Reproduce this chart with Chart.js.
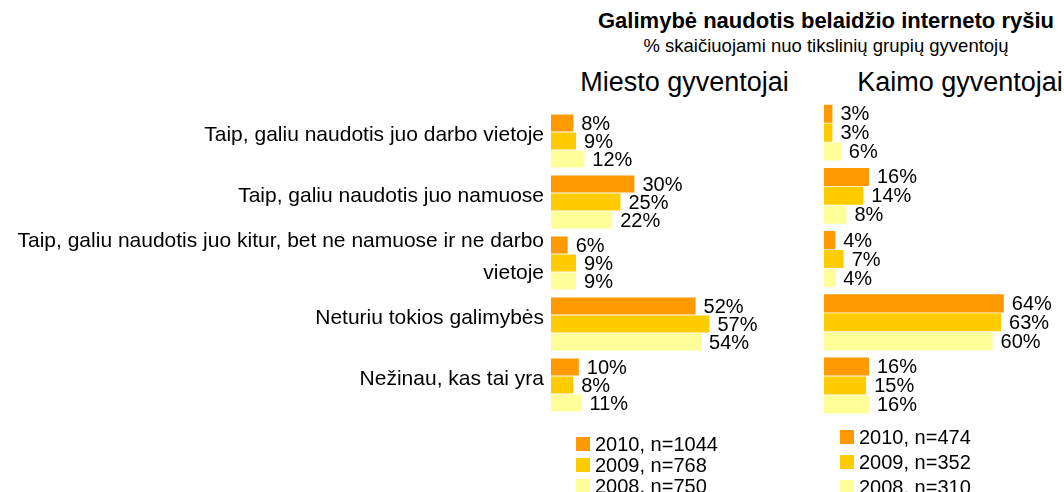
<!DOCTYPE html>
<html>
<head>
<meta charset="utf-8">
<script src="https://cdn.jsdelivr.net/npm/chart.js@4.4.1/dist/chart.umd.min.js"></script>
<style>
  html, body { margin: 0; padding: 0; background: #fff; }
  body { width: 1064px; height: 492px; position: relative; overflow: hidden; font-family: "Liberation Sans", Arial, sans-serif; color: #000; }
  canvas { position: absolute; }
  .t { position: absolute; white-space: nowrap; line-height: 1; transform: translateX(-50%); }
  .leg { position: absolute; white-space: nowrap; font-size: 20px; line-height: 20px; height: 20px; }
  .leg i { position: absolute; width: 14px; height: 14px; top: 3px; left: 0; }
  .leg span { position: absolute; top: 0; }
</style>
</head>
<body>
<div class="t" style="left:826px; top:10px; font-size:22px; font-weight:bold;">Galimybė naudotis belaidžio interneto ryšiu</div>
<div class="t" style="left:826px; top:37px; font-size:18.5px;">% skaičiuojami nuo tikslinių grupių gyventojų</div>
<div class="t" id="pt0" style="left:684.5px; top:69px; font-size:27px;"></div>
<div class="t" id="pt1" style="left:960px; top:69px; font-size:27px;"></div>
<canvas id="city" width="810" height="492" style="left:0;top:0;"></canvas>
<canvas id="rural" width="254" height="492" style="left:810px;top:0;"></canvas>
<div id="legCity"></div>
<div id="legRural"></div>
<script>
const categories = [
  'Taip, galiu naudotis juo darbo vietoje',
  'Taip, galiu naudotis juo namuose',
  ['Taip, galiu naudotis juo kitur, bet ne namuose ir ne darbo', 'vietoje'],
  'Neturiu tokios galimybės',
  'Nežinau, kas tai yra'
];
const panelTitles = ['Miesto gyventojai', 'Kaimo gyventojai'];
const cityLabels = ['2010, n=1044', '2009, n=768', '2008, n=750'];
const ruralLabels = ['2010, n=474', '2009, n=352', '2008, n=310'];
const city2010 = [8, 30, 6, 52, 10];
const city2009 = [9, 25, 9, 57, 8];
const city2008 = [12, 22, 9, 54, 11];
const rural2010 = [3, 16, 4, 64, 16];
const rural2009 = [3, 14, 7, 63, 15];
const rural2008 = [6, 8, 4, 60, 16];
const colors = ['#FF9900', '#FFCC00', '#FFFF99'];

document.getElementById('pt0').textContent = panelTitles[0];
document.getElementById('pt1').textContent = panelTitles[1];

Chart.defaults.font.family = '"Liberation Sans", Arial, sans-serif';
Chart.defaults.color = '#000';

const valueLabels = {
  id: 'valueLabels',
  afterDatasetsDraw(chart) {
    const ctx = chart.ctx;
    ctx.save();
    ctx.font = '20px "Liberation Sans", Arial, sans-serif';
    ctx.fillStyle = '#000';
    ctx.textBaseline = 'middle';
    ctx.textAlign = 'left';
    chart.data.datasets.forEach((ds, di) => {
      chart.getDatasetMeta(di).data.forEach((bar, i) => {
        ctx.fillText(ds.data[i] + '%', bar.x + 8, bar.y + 1);
      });
    });
    ctx.restore();
  }
};

function makeDatasets(labels, series) {
  return series.map((d, i) => ({
    label: labels[i],
    data: d,
    backgroundColor: colors[i],
    borderWidth: 0
  }));
}

new Chart(document.getElementById('city'), {
  type: 'bar',
  data: { labels: categories, datasets: makeDatasets(cityLabels, [city2010, city2009, city2008]) },
  options: {
    indexAxis: 'y',
    responsive: false,
    animation: false,
    layout: { padding: { top: 110.5, bottom: 76.5, left: 0, right: 8.8 } },
    datasets: { bar: { categoryPercentage: 0.885, barPercentage: 0.95 } },
    plugins: { legend: { display: false }, tooltip: { enabled: false } },
    scales: {
      x: { display: false, min: 0, max: 90 },
      y: {
        grid: { display: false, drawTicks: false },
        border: { display: false },
        ticks: { autoSkip: false, padding: 7, labelOffset: -6, color: '#000', font: { size: 21, lineHeight: 1.5 } },
        afterFit(scale) { scale.width = 551; }
      }
    }
  },
  plugins: [valueLabels]
});

new Chart(document.getElementById('rural'), {
  type: 'bar',
  data: { labels: categories, datasets: makeDatasets(ruralLabels, [rural2010, rural2009, rural2008]) },
  options: {
    indexAxis: 'y',
    responsive: false,
    animation: false,
    layout: { padding: { top: 101, bottom: 74.8, left: 14, right: 15.2 } },
    datasets: { bar: { categoryPercentage: 0.9, barPercentage: 0.95 } },
    plugins: { legend: { display: false }, tooltip: { enabled: false } },
    scales: {
      x: { display: false, min: 0, max: 80 },
      y: { display: false }
    }
  },
  plugins: [valueLabels]
});

function buildLegend(id, labels, left, centers) {
  const host = document.getElementById(id);
  labels.forEach((lab, i) => {
    const row = document.createElement('div');
    row.className = 'leg';
    row.style.left = left + 'px';
    row.style.top = (centers[i] - 10) + 'px';
    const sw = document.createElement('i');
    sw.style.background = colors[i];
    const tx = document.createElement('span');
    tx.style.left = '19px';
    tx.textContent = lab;
    row.appendChild(sw);
    row.appendChild(tx);
    host.appendChild(row);
  });
}
buildLegend('legCity', cityLabels, 576, [443.7, 465, 486.3]);
buildLegend('legRural', ruralLabels, 840, [437, 462, 487]);
</script>
</body>
</html>
